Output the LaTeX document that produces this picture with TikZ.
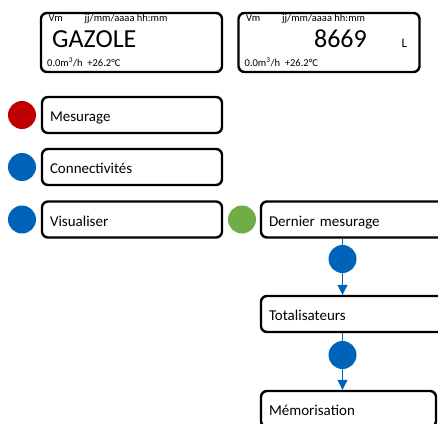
\documentclass[tikz,border=0pt]{standalone}
\usepackage{fontspec}
\setmainfont{Carlito}
\usepackage{tikz}
\usetikzlibrary{positioning}
\usetikzlibrary{arrows.meta}

\definecolor{rouge}{RGB}{192,0,0}
\definecolor{bleu}{RGB}{0,99,186}
\definecolor{vert}{RGB}{112,173,71}

\begin{document}
\begin{tikzpicture}[
		x=1pt, y=-1pt,
		box/.style={draw, line width=2.4pt, rounded corners=6pt, minimum height=36pt,
			text width=164pt, text height=14pt, text depth=0.6pt,
			inner xsep=8pt, align=left, font=\fontsize{15}{18}\selectfont},
		disp/.style={draw, line width=2.4pt, rounded corners=6pt, minimum width=181pt, minimum height=59pt},
		dot/.style={circle, fill=#1, minimum size=28pt, inner sep=0pt},
		small/.style={font=\fontsize{10.5}{12}\selectfont, inner sep=0pt, anchor=base west},
		big/.style={font=\fontsize{26}{30}\selectfont, inner sep=0pt},
		flow/.style={bleu, line width=1pt},
		flowarr/.style={flow, -{Triangle[width=10pt,length=10pt]}}
	]
		\useasboundingbox (0,0) rectangle (438,423);
		\clip (0,0) rectangle (438,423);
		% afficheurs
		\node[disp] (D1) at (131.5,42.5) {};
		\node[disp] (D2) at (329,42.5) {};
		\foreach \x/\n in {48.5/a, 246/b}
		{
			\node[small] (vm\n) at (\x,21) {Vm};
			\node[small] (dt\n) at (\x+36,21) {jj/mm/aaaa hh:mm};
			\node[small] (db\n) at (\x-1.5,66) {0.0m\textsuperscript{3}/h~ +26.2°C};
		}
		\node[big, anchor=base west] (gaz) at (52,47) {GAZOLE};
		\node[big, anchor=base east] (vol) at (367,47) {8669};
		\node[font=\fontsize{13}{15}\selectfont, inner sep=0pt, anchor=base west] (unit) at (401.5,47) {L};
		% menu
		\foreach \t/\c/\y/\n in {Mesurage/rouge/115/mes, Connectivités/bleu/167/con, Visualiser/bleu/219.5/vis}
		{
			\node[dot=\c] (p\n) at (22,\y) {};
			\node[box] (\n) at (132,\y) {\t};
		}
		% sous-menu
		\node[dot=vert] (pdm) at (242,219.5) {};
		\node[box, text width=169pt] (dm) at (353.5,219.5) {Dernier mesurage};
		\node[box, text width=169pt] (tot) at (353.5,314) {Totalisateurs};
		\node[box, text width=159pt] (mem) at (348.5,409) {Mémorisation};
		\node[dot=bleu] (c1) at (342.5,259) {};
		\node[dot=bleu] (c2) at (342.5,355) {};
		\draw[flow] (dm.south -| c1) -- (c1);
		\draw[flowarr] (c1) -- (tot.north -| c1);
		\draw[flow] (tot.south -| c2) -- (c2);
		\draw[flowarr] (c2) -- (mem.north -| c2);
	\end{tikzpicture}
\end{document}
